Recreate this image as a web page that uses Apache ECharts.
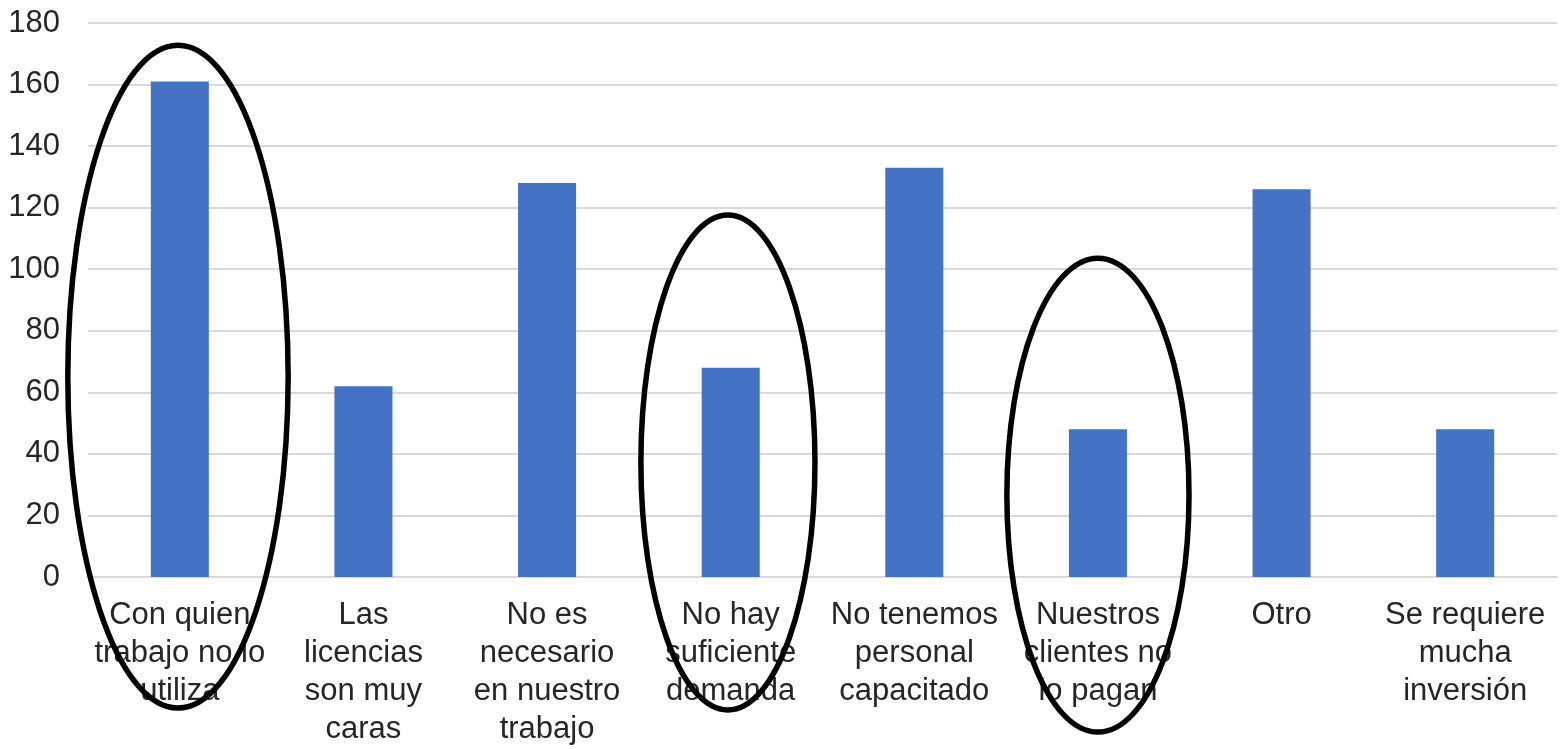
<!DOCTYPE html>
<html>
<head>
<meta charset="utf-8">
<script src="https://cdn.jsdelivr.net/npm/echarts@6/dist/echarts.min.js"></script>
<style>
html,body{margin:0;padding:0;background:#fff;}
#chart{width:1566px;height:749px;}
</style>
</head>
<body>
<div id="chart"></div>
<script>
const categories = [
  'Con quien\ntrabajo no lo\nutiliza',
  'Las\nlicencias\nson muy\ncaras',
  'No es\nnecesario\nen nuestro\ntrabajo',
  'No hay\nsuficiente\ndemanda',
  'No tenemos\npersonal\ncapacitado',
  'Nuestros\nclientes no\nlo pagan',
  'Otro',
  'Se requiere\nmucha\ninversión'
];
const values = [161, 62, 128, 68, 133, 48, 126, 48];
const yTicks = { min: 0, max: 180, interval: 20 };
// highlighted categories (circled in the reference)
const highlighted = [0, 3, 5];

// annotation geometry (top/bottom in axis units, half-width in category widths)
const ellipseGeom = [
  { top: 172.8, bottom: -42.6, half: 0.60, dx: -0.01 },
  { top: 117.6, bottom: -43.2, half: 0.474, dx: -0.015 },
  { top: 103.6, bottom: -50.4, half: 0.496, dx: 0.0 }
];

const chart = echarts.init(document.getElementById('chart'));
const font = '"Liberation Sans", Arial, sans-serif';
chart.setOption({
  animation: false,
  grid: { left: 88, right: 9, top: 23, bottom: 172, containLabel: false },
  xAxis: {
    type: 'category',
    data: categories,
    axisTick: { show: false },
    axisLine: { show: true, lineStyle: { color: '#d9d9d9', width: 2 } },
    axisLabel: {
      interval: 0, margin: 19, color: '#262626', fontSize: 31,
      fontFamily: font, lineHeight: 38, align: 'center'
    }
  },
  yAxis: {
    type: 'value',
    min: yTicks.min, max: yTicks.max, interval: yTicks.interval,
    axisLine: { show: false },
    axisTick: { show: false },
    splitLine: { lineStyle: { color: '#d9d9d9', width: 2 } },
    axisLabel: { margin: 28, color: '#262626', fontSize: 31, fontFamily: font }
  },
  series: [{
    type: 'bar',
    data: values,
    barWidth: '31.6%',
    itemStyle: { color: '#4472C4' }
  }]
});

function drawEllipses() {
  const p0 = chart.convertToPixel({ gridIndex: 0 }, [0, 0]);
  const p1 = chart.convertToPixel({ gridIndex: 0 }, [1, 0]);
  const band = p1[0] - p0[0];
  const graphics = highlighted.map((ci, k) => {
    const g = ellipseGeom[k];
    const top = chart.convertToPixel({ gridIndex: 0 }, [ci, g.top]);
    const bot = chart.convertToPixel({ gridIndex: 0 }, [ci, g.bottom]);
    return {
      type: 'ellipse',
      z: 100,
      shape: {
        cx: top[0] + g.dx * band,
        cy: (top[1] + bot[1]) / 2,
        rx: g.half * band,
        ry: (bot[1] - top[1]) / 2
      },
      style: { fill: 'none', stroke: '#000', lineWidth: 5.5 }
    };
  });
  chart.setOption({ graphic: graphics });
}
drawEllipses();
</script>
</body>
</html>
